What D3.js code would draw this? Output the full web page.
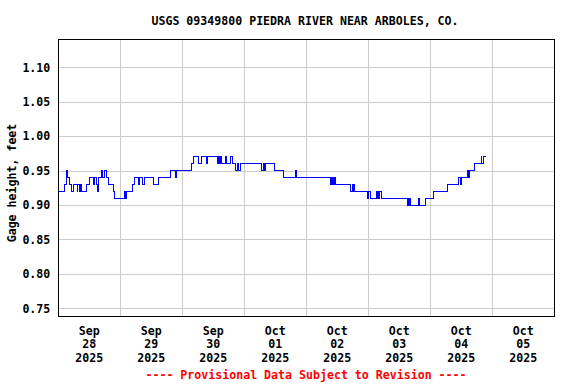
<!DOCTYPE html>
<html>
<head>
<meta charset="utf-8">
<script src="https://cdn.jsdelivr.net/npm/d3@7"></script>
<style>
  body { margin: 0; background: #fff; }
  text { font-family: "DejaVu Sans Mono", monospace; font-weight: bold; font-size: 11.6px; fill: #000; }
  .grid line { stroke: #cccccc; shape-rendering: crispEdges; }
  .grid path { display: none; }
  .frame { fill: none; stroke: #000; shape-rendering: crispEdges; }
  .series { fill: none; stroke: #0000ff; stroke-width: 1; shape-rendering: crispEdges; }
  .provisional { fill: #ff0000; }
</style>
</head>
<body>
<script>
"use strict";

// readings where the gage height changes (feet)
var times = [
  "2025-09-28 00:00", "2025-09-28 00:15", "2025-09-28 02:30", "2025-09-28 03:00", "2025-09-28 03:45",
  "2025-09-28 04:15", "2025-09-28 05:00", "2025-09-28 05:45", "2025-09-28 07:15", "2025-09-28 07:30",
  "2025-09-28 08:15", "2025-09-28 08:30", "2025-09-28 09:00", "2025-09-28 10:45", "2025-09-28 12:00",
  "2025-09-28 13:30", "2025-09-28 14:00", "2025-09-28 14:45", "2025-09-28 15:00", "2025-09-28 15:45",
  "2025-09-28 16:45", "2025-09-28 17:15", "2025-09-28 18:00", "2025-09-28 18:30", "2025-09-28 19:15",
  "2025-09-28 21:15", "2025-09-28 21:45",
  "2025-09-29 01:45", "2025-09-29 02:00", "2025-09-29 02:15", "2025-09-29 04:45", "2025-09-29 05:30",
  "2025-09-29 07:00", "2025-09-29 07:15", "2025-09-29 08:30", "2025-09-29 09:15", "2025-09-29 12:45",
  "2025-09-29 14:45", "2025-09-29 19:15", "2025-09-29 21:15", "2025-09-29 21:45",
  "2025-09-30 03:30", "2025-09-30 04:30", "2025-09-30 06:15", "2025-09-30 07:15", "2025-09-30 09:15",
  "2025-09-30 09:45", "2025-09-30 13:30", "2025-09-30 14:00", "2025-09-30 14:30", "2025-09-30 14:45",
  "2025-09-30 15:15", "2025-09-30 16:45", "2025-09-30 17:15", "2025-09-30 18:30", "2025-09-30 19:30",
  "2025-09-30 20:30", "2025-09-30 21:15", "2025-09-30 21:45", "2025-09-30 22:30",
  "2025-10-01 06:45", "2025-10-01 07:30", "2025-10-01 07:45", "2025-10-01 08:15", "2025-10-01 11:45",
  "2025-10-01 15:15", "2025-10-01 19:45", "2025-10-01 20:15",
  "2025-10-02 09:15", "2025-10-02 09:45", "2025-10-02 10:00", "2025-10-02 10:30", "2025-10-02 10:45",
  "2025-10-02 11:00", "2025-10-02 11:15", "2025-10-02 17:15", "2025-10-02 17:45", "2025-10-02 18:00",
  "2025-10-02 18:15", "2025-10-02 18:30", "2025-10-02 23:45",
  "2025-10-03 00:15", "2025-10-03 01:00", "2025-10-03 03:00", "2025-10-03 03:15", "2025-10-03 03:30",
  "2025-10-03 04:00", "2025-10-03 04:15", "2025-10-03 05:00", "2025-10-03 15:00", "2025-10-03 15:15",
  "2025-10-03 15:30", "2025-10-03 16:00", "2025-10-03 16:30", "2025-10-03 19:30", "2025-10-03 19:45",
  "2025-10-03 22:15",
  "2025-10-04 01:15", "2025-10-04 06:45", "2025-10-04 11:00", "2025-10-04 11:30", "2025-10-04 11:45",
  "2025-10-04 12:00", "2025-10-04 12:15", "2025-10-04 14:30", "2025-10-04 14:45", "2025-10-04 15:00",
  "2025-10-04 17:00", "2025-10-04 19:45", "2025-10-04 20:00", "2025-10-04 20:30", "2025-10-04 21:45"
];

var gage_height = [
  0.91, 0.92, 0.93, 0.95, 0.94,
  0.93, 0.92, 0.93, 0.92, 0.93,
  0.92, 0.93, 0.92, 0.93, 0.94,
  0.93, 0.94, 0.93, 0.92, 0.94,
  0.95, 0.94, 0.95, 0.94, 0.93,
  0.92, 0.91,
  0.92, 0.91, 0.92, 0.93, 0.94,
  0.93, 0.94, 0.93, 0.94, 0.93,
  0.94, 0.95, 0.94, 0.95,
  0.96, 0.97, 0.96, 0.97, 0.96,
  0.97, 0.96, 0.97, 0.96, 0.97,
  0.96, 0.97, 0.96, 0.97, 0.96,
  0.95, 0.96, 0.95, 0.96,
  0.95, 0.96, 0.95, 0.96, 0.95,
  0.94, 0.95, 0.94,
  0.93, 0.94, 0.93, 0.94, 0.93,
  0.94, 0.93, 0.92, 0.93, 0.92,
  0.93, 0.92, 0.91,
  0.92, 0.91, 0.92, 0.91, 0.92,
  0.91, 0.92, 0.91, 0.90, 0.91,
  0.90, 0.91, 0.90, 0.91, 0.90,
  0.91,
  0.92, 0.93, 0.94, 0.93, 0.94,
  0.93, 0.94, 0.95, 0.94, 0.95,
  0.96, 0.97, 0.96, 0.97, 0.97
];

var y_ticks = [0.75, 0.80, 0.85, 0.90, 0.95, 1.00, 1.05, 1.10];
var days = ["2025-09-28", "2025-09-29", "2025-09-30", "2025-10-01",
  "2025-10-02", "2025-10-03", "2025-10-04", "2025-10-05", "2025-10-06"];

var title = "USGS 09349800 PIEDRA RIVER NEAR ARBOLES, CO.";
var y_title = "Gage height, feet";
var note = "---- Provisional Data Subject to Revision ----";

function draw() {
  var width = 576,
    height = 384,
    plot = {left: 58.3, right: 554.3, top: 39.3, bottom: 316};

  var parse_time = d3.timeParse("%Y-%m-%d %H:%M"),
    parse_day = d3.timeParse("%Y-%m-%d");

  var data = times.map((t, i) => ({time: parse_time(t), value: gage_height[i]}));
  var day_dates = days.map(parse_day);

  var svg = d3.select("body").append("svg")
    .attr("width", width)
    .attr("height", height);

  // scales
  var x = d3.scaleTime()
    .domain([day_dates[0], day_dates[day_dates.length - 1]])
    .range([plot.left, plot.right]);

  var y = d3.scaleLinear()
    .domain([0.7388, 1.1407])
    .range([plot.bottom, plot.top]);

  // gridlines
  svg.append("g")
    .attr("class", "grid")
    .attr("transform", `translate(${plot.left}, 0)`)
    .call(d3.axisLeft(y).tickValues(y_ticks).tickSize(-(plot.right - plot.left)).tickFormat(""));

  svg.append("g")
    .attr("class", "grid")
    .attr("transform", `translate(0, ${plot.bottom})`)
    .call(d3.axisBottom(x).tickValues(day_dates.slice(1, -1)).tickSize(-(plot.bottom - plot.top)).tickFormat(""));

  // y labels
  var axis_y = svg.append("g")
    .attr("transform", `translate(${plot.left}, 0)`)
    .call(d3.axisLeft(y).tickValues(y_ticks).tickSize(0).tickPadding(8).tickFormat(d3.format(".2f")));

  axis_y.select(".domain").remove();
  axis_y.selectAll("text")
    .attr("fill", "#000")
    .style("font-size", "11.6px")
    .style("font-family", "\"DejaVu Sans Mono\", monospace");

  svg.append("text")
    .attr("transform", "translate(16, 183) rotate(-90)")
    .attr("text-anchor", "middle")
    .text(y_title);

  // x labels, one per day at noon
  var noon = d3.timeHour.offset;
  var label = svg.append("g").selectAll("text")
    .data(day_dates.slice(0, -1))
    .enter().append("text")
      .attr("text-anchor", "middle")
      .attr("transform", d => `translate(${x(noon(d, 12))}, 0)`);

  label.append("tspan").attr("x", 0).attr("y", 335).text(d3.timeFormat("%b"));
  label.append("tspan").attr("x", 0).attr("y", 348.3).text(d3.timeFormat("%d"));
  label.append("tspan").attr("x", 0).attr("y", 361.5).text(d3.timeFormat("%Y"));

  // series
  var line = d3.line()
    .x(d => x(d.time))
    .y(d => y(d.value))
    .curve(d3.curveStepAfter);

  svg.append("path")
    .datum(data)
    .attr("class", "series")
    .attr("d", line);

  // frame
  svg.append("rect")
    .attr("class", "frame")
    .attr("x", plot.left)
    .attr("y", plot.top)
    .attr("width", plot.right - plot.left)
    .attr("height", plot.bottom - plot.top);

  // titles
  svg.append("text")
    .attr("x", 305)
    .attr("y", 25)
    .attr("text-anchor", "middle")
    .text(title);

  svg.append("text")
    .attr("class", "provisional")
    .attr("x", 306)
    .attr("y", 379)
    .attr("text-anchor", "middle")
    .text(note);
}

draw();
</script>
</body>
</html>
